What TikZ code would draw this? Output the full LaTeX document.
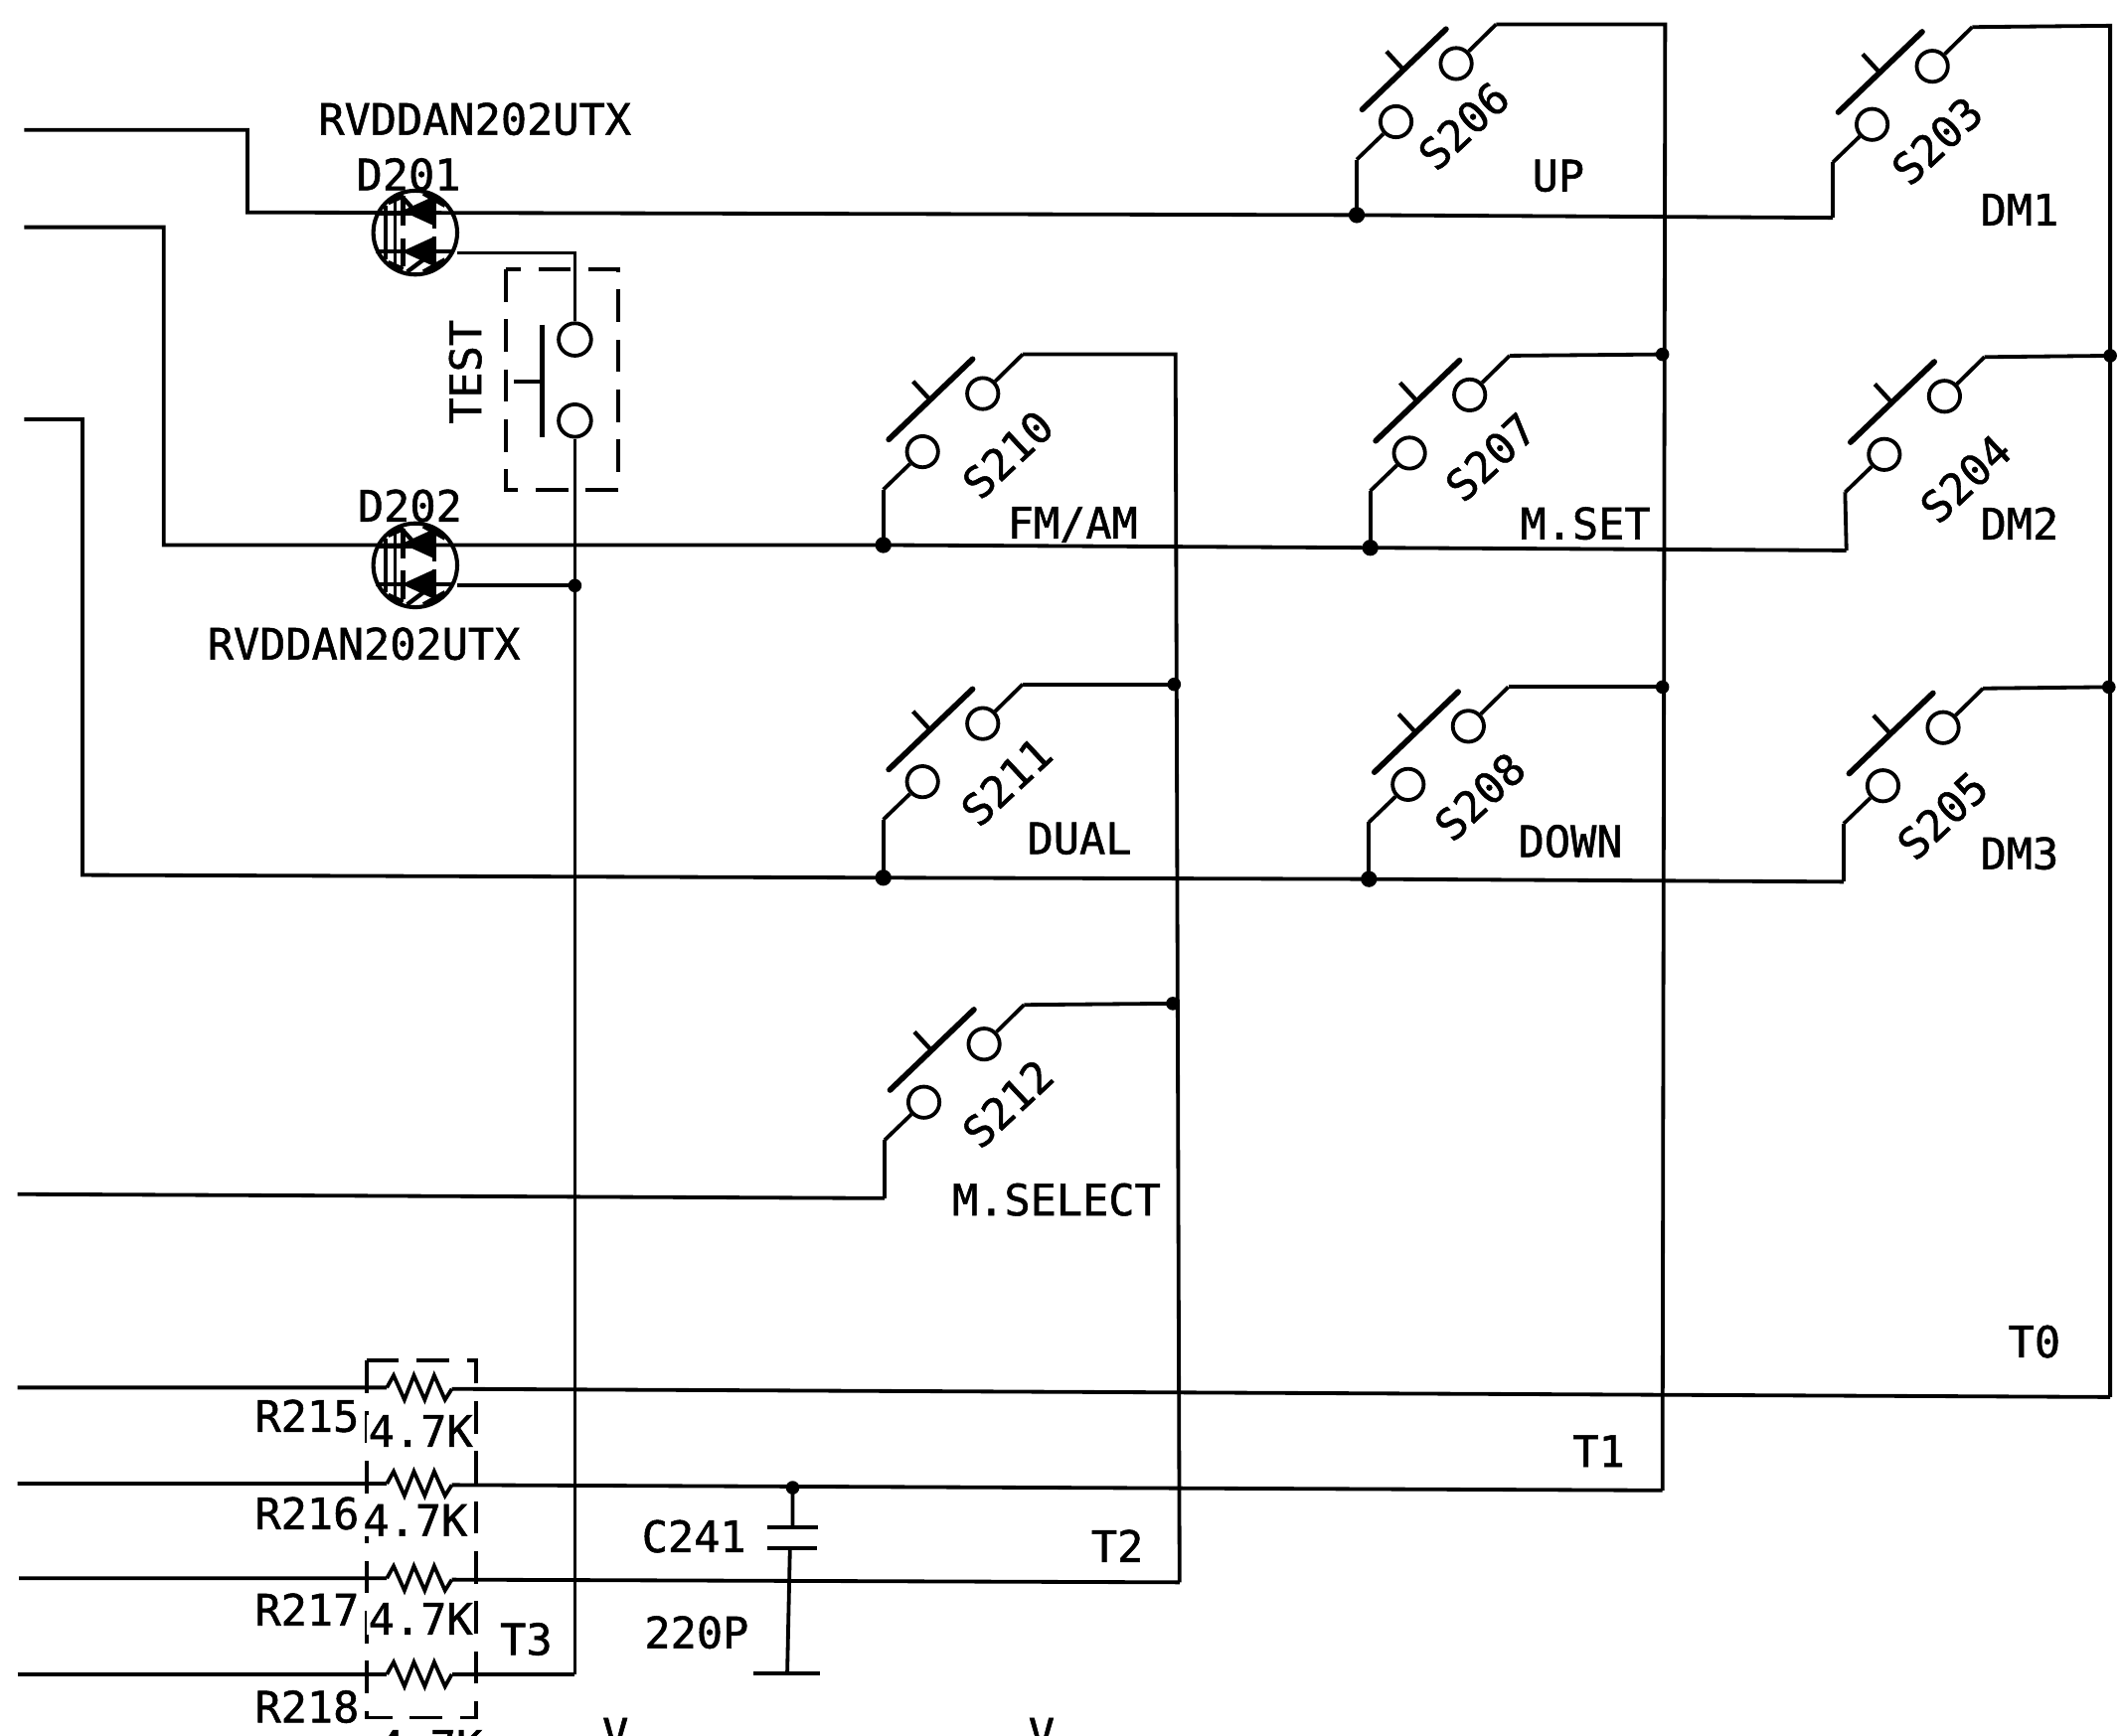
\documentclass[tikz,border=0pt]{standalone}
\usepackage{fontspec}
\newfontfamily\schem[FakeBold=1.2]{DejaVu Sans Mono}
\tikzset{
  wire/.style={line width=2.8pt,line join=miter},
  contact/.style={circle,draw,line width=2.8pt,fill=white,minimum size=23pt,inner sep=0pt},
  bar/.style={line width=4.2pt,line cap=round},
  stem/.style={line width=3.2pt},
  lbl/.style={font=\schem\fontsize{32}{32}\selectfont,inner sep=0pt,text=black},
  slbl/.style={lbl,rotate=43},
  dot/.style={circle,fill=black,minimum size=12pt,inner sep=0pt},
  smalldot/.style={circle,fill=black,minimum size=10pt,inner sep=0pt},
  dbox/.style={line width=2.8pt,dash pattern=on 24pt off 13pt},
  pkg/.style={circle,draw,line width=3pt,minimum size=62pt,inner sep=0pt}
}
\newcommand{\pushsw}[3]{%
  \coordinate (#1-el) at (#2,#3);
  \coordinate (#1-top) at (#2+103,#3-100);
  \node[contact] (#1-lo) at (#2+29,#3-28) {};
  \node[contact] (#1-hi) at (#2+73.5,#3-71) {};
  \draw[bar] (#2+4,#3-37) -- (#2+66,#3-96.5);
  \draw[stem] (#2+34,#3-67) -- (#2+22,#3-80);
  \draw[wire] (#1-lo) -- (#1-el);
  \draw[wire] (#1-hi) -- (#1-top);
}
\newcommand{\ledpair}[3]{%
  \node[pkg] (#1) at (#2,#3) {};
  \begin{scope}[shift={(#2,#3)}]
    \draw[line width=2.8pt] (-22,-20) -- (-22,20) (-15,-27) -- (-15,27);
    \fill (-10,-16) -- (14,-27) -- (14,-5) -- cycle;
    \fill (-10,14) -- (14,3) -- (14,25) -- cycle;
    \draw[line width=3.6pt] (-9,-27) -- (-9,-5) (-9,4) -- (-9,25);
    \draw[line width=2.8pt] (-29,-14) -- (14,-14) (-29,14) -- (29,14);
    \draw[line width=2.8pt] (14,-27) -- (14,-3) (14,3) -- (14,27);
    \draw[line width=3.2pt] (-12,-29) -- (-2,-18) (-6,29) -- (6,20) (6,-29) -- (22,-20) (6,29) -- (22,20) (-20,-22) -- (-9,-27) (-20,22) -- (-9,27);
  \end{scope}
}
\newcommand{\resist}[4]{%
  \coordinate (#1-l) at (#2,#3);
  \coordinate (#1-r) at (#2+48,#4);
  \draw[wire] (#1-l) -- ++(5,-9) -- ++(8,18) -- ++(7,-18) -- ++(8,18) -- ++(7,-18) -- ++(8,18) -- (#1-r);
}
\begin{document}
\begin{tikzpicture}[x=1pt,y=-1pt]
\useasboundingbox (0,0) rectangle (1568,1283);
\clip (0,0) rectangle (1568,1283);
\fill[white] (0,0) rectangle (1568,1283);

% terminals and corners
\coordinate (inA) at (18,96);   \coordinate (inAc) at (183,96);  \coordinate (inAd) at (183,157);
\coordinate (inB) at (18,168);  \coordinate (inBc) at (121,168); \coordinate (inBd) at (121,403);
\coordinate (inC) at (18,310);  \coordinate (inCc) at (61,310);  \coordinate (inCd) at (61,647);
\coordinate (inD) at (13,883);
\coordinate (j206) at (1003,159); \coordinate (c203) at (1355,161);
\coordinate (j210) at (653,403);  \coordinate (j207) at (1013,405); \coordinate (c204) at (1365,407);
\coordinate (j211) at (653,649);  \coordinate (j208) at (1012,650); \coordinate (c205) at (1363,652);
\coordinate (c212) at (654,886);
\coordinate (t0a) at (13,1026); \coordinate (t1a) at (13,1097); \coordinate (t2a) at (14,1167); \coordinate (t3a) at (13,1238);
\coordinate (t0e) at (1560,1033); \coordinate (t1e) at (1229,1102); \coordinate (t2e) at (872,1170); \coordinate (t3e) at (425,1238);

% row wires
\draw[wire] (inA) -- (inAc) -- (inAd) -- (j206) -- (c203);
\draw[wire] (inB) -- (inBc) -- (inBd) -- (j210) -- (j207) -- (c204);
\draw[wire] (inC) -- (inCc) -- (inCd) -- (j211) -- (j208) -- (c205);
\draw[wire] (inD) -- (c212);

% switches
\pushsw{s206}{1003}{118}
\pushsw{s203}{1355}{120}
\pushsw{s210}{653}{362}
\pushsw{s207}{1013}{363}
\pushsw{s204}{1364}{364}
\pushsw{s211}{653}{606}
\pushsw{s208}{1012}{608}
\pushsw{s205}{1363}{609}
\pushsw{s212}{654}{843}

% stubs from the rows up to the switches
\foreach \a/\b in {j206/s206-el,c203/s203-el,j210/s210-el,j207/s207-el,c204/s204-el,j211/s211-el,j208/s208-el,c205/s205-el,c212/s212-el}
  \draw[wire] (\a) -- (\b);

% rails
\coordinate (t1top) at (1231,18);
\coordinate (t0top) at (1560,19);
\coordinate (t2top) at (869,262);
\coordinate (d207) at (1229,262); \coordinate (d208) at (1229,508);
\coordinate (d204) at (1560,263); \coordinate (d205) at (1559,508);
\coordinate (d211) at (868,506);  \coordinate (d212) at (867,742);
\draw[wire] (s206-top) -- (t1top) -- (t1e);
\draw[wire] (s203-top) -- (t0top) -- (t0e);
\draw[wire] (s210-top) -- (t2top) -- (t2e);
\draw[wire] (s207-top) -- (d207);
\draw[wire] (s208-top) -- (d208);
\draw[wire] (s204-top) -- (d204);
\draw[wire] (s205-top) -- (d205);
\draw[wire] (s211-top) -- (d211);
\draw[wire] (s212-top) -- (d212);
\foreach \p in {d207,d208,d204,d205,d211,d212}
  \node[smalldot] at (\p) {};
\foreach \p in {j206,j210,j207,j211,j208}
  \node[dot] at (\p) {};

% LED pairs
\ledpair{d201}{307}{172}
\ledpair{d202}{307}{418}
\coordinate (d201o) at (338,187); \coordinate (d202o) at (338,433);
\coordinate (t3c) at (425,187);  \coordinate (t3j) at (425,433);

% TEST switch
\draw[dbox] (374,199) rectangle (457,362);
\node[contact,minimum size=24pt] (testa) at (425,251) {};
\node[contact,minimum size=24pt] (testb) at (425,311) {};
\draw[line width=3.8pt] (401,240) -- (401,323);
\draw[stem] (401,282) -- (380,282);
\draw[wire] (d201o) -- (t3c) -- (testa);
\draw[wire] (testb) -- (t3e);
\draw[wire] (d202o) -- (t3j);
\node[smalldot] at (t3j) {};

% resistor network
\draw[dbox] (271,1006) rectangle (352,1270);
\resist{r215}{286}{1026}{1027}
\resist{r216}{286}{1097}{1098}
\resist{r217}{286}{1167}{1168}
\resist{r218}{286}{1238}{1238}
\draw[wire] (t0a) -- (r215-l) (r215-r) -- (t0e);
\draw[wire] (t1a) -- (r216-l) (r216-r) -- (t1e);
\draw[wire] (t2a) -- (r217-l) (r217-r) -- (t2e);
\draw[wire] (t3a) -- (r218-l) (r218-r) -- (t3e);

% capacitor
\coordinate (cj) at (586,1100); \coordinate (cp1) at (586,1129); \coordinate (cp2) at (584,1145); \coordinate (cg) at (582,1237);
\draw[wire] (cj) -- (cp1) (cp2) -- (cg);
\draw[line width=3pt] (567,1129) -- (605,1129) (567,1145) -- (604,1145) (557,1237) -- (606,1237);
\node[smalldot] at (cj) {};

% labels
\node[lbl] (t1) at (351,88) {RVDDAN202UTX};
\node[lbl] (t2) at (269,476) {RVDDAN202UTX};
\node[lbl] (t3) at (302,129) {D201};
\node[lbl] (t4) at (303,374) {D202};
\node[lbl,rotate=90] (t5) at (344,275) {TEST};
\node[lbl] (l206) at (1152,130) {UP};
\node[lbl] (l203) at (1493,155) {DM1};
\node[lbl] (l204) at (1493,387) {DM2};
\node[lbl] (l205) at (1493,631) {DM3};
\node[lbl] (l210) at (793,388) {FM/AM};
\node[lbl] (l207) at (1172,387) {M.SET};
\node[lbl] (l211) at (798,620) {DUAL};
\node[lbl] (l208) at (1161,622) {DOWN};
\node[lbl] (l212) at (781,887) {M.SELECT};
\node[slbl] (n206) at (1082,93) {S206};
\node[slbl] (n203) at (1432,104) {S203};
\node[slbl] (n210) at (745,336) {S210};
\node[slbl] (n207) at (1102,338) {S207};
\node[slbl] (n204) at (1453,354) {S204};
\node[slbl] (n211) at (744,578) {S211};
\node[slbl] (n208) at (1094,589) {S208};
\node[slbl] (n205) at (1436,603) {S205};
\node[slbl] (n212) at (745,816) {S212};
\node[lbl] (tt0) at (1504,992) {T0};
\node[lbl] (tt1) at (1182,1073) {T1};
\node[lbl] (tt2) at (826,1143) {T2};
\node[lbl] (tt3) at (389,1212) {T3};
\node[lbl] (c1) at (513,1136) {C241};
\node[lbl] (c2) at (515,1207) {220P};
\node[lbl] (r1) at (227,1047) {R215};
\node[lbl] (r2) at (227,1119) {R216};
\node[lbl] (r3) at (227,1190) {R217};
\node[lbl] (r4) at (227,1262) {R218};
\node[lbl,fill=white,inner xsep=1pt] (v1) at (311,1058) {4.7K};
\node[lbl,fill=white,inner xsep=1pt] (v2) at (307,1124) {4.7K};
\node[lbl,fill=white,inner xsep=1pt] (v3) at (311,1197) {4.7K};
\node[lbl] (v4) at (318,1291) {4.7K};
\node[lbl] (v5) at (455,1282) {V};
\node[lbl] (v6) at (770,1282) {V};
\end{tikzpicture}
\end{document}
